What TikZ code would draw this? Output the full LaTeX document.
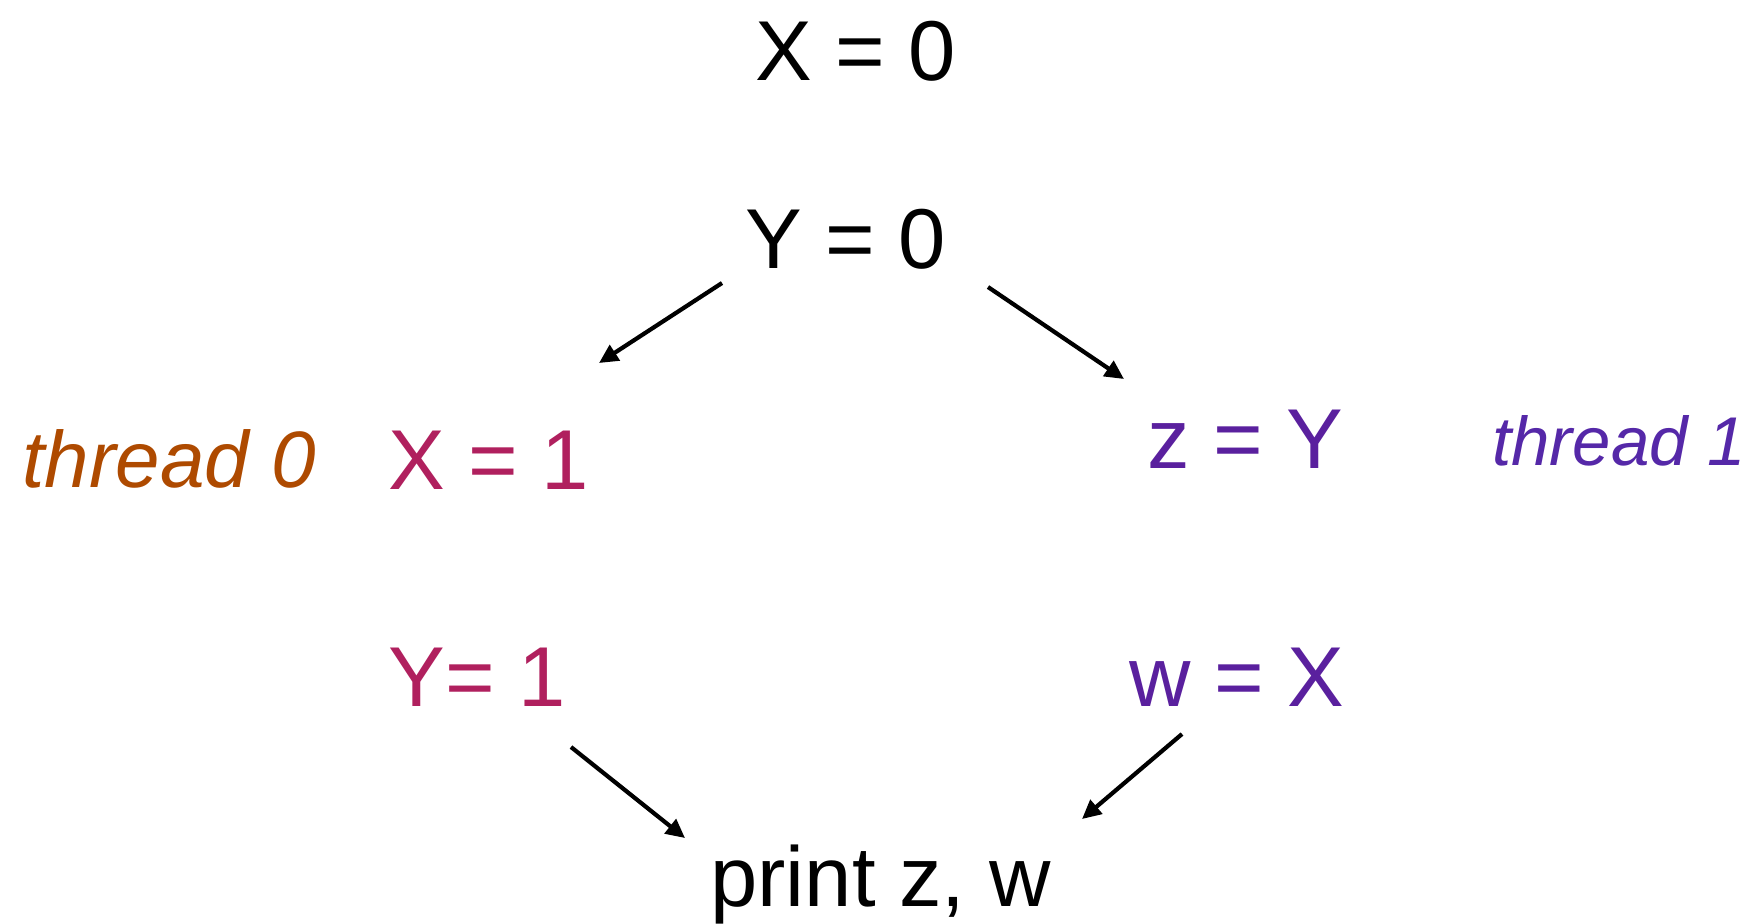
\documentclass[tikz,border=0pt]{standalone}
\usepackage{fontspec}
\setmainfont{Liberation Sans}
\usetikzlibrary{arrows.meta}
\definecolor{tbrown}{HTML}{AE4A00}
\definecolor{tmag}{HTML}{B0205E}
\definecolor{tpurp}{HTML}{5A209E}
\definecolor{tpurp2}{HTML}{5528A8}
\tikzset{
  lbl/.style={inner sep=0pt, anchor=base west, font=\fontsize{42.5}{51}\selectfont},
  thr/.style={inner sep=0pt, anchor=base west, font=\fontsize{40}{48}\selectfont\itshape},
  arr/.style={line width=2.1pt, -{Triangle[length=9.5pt,width=9pt]}},
}
\begin{document}
\begin{tikzpicture}[x=0.5pt,y=-0.5pt]
\useasboundingbox (0,0) rectangle (1749,923);
\node[lbl] (x0) at (755,80) {X = 0};
\node[lbl] (y0) at (745,268) {Y = 0};
\node[thr, text=tbrown] (t0) at (22,487) {thread 0};
\node[lbl, text=tmag] (x1) at (388,489) {X = 1};
\node[lbl, text=tmag] (y1) at (388,706) {Y= 1};
\node[lbl, text=tpurp] (zy) at (1147,468) {z = Y};
\node[thr, text=tpurp2, font=\fontsize{34.5}{41}\selectfont\itshape] (t1) at (1492,465) {thread 1};
\node[lbl, text=tpurp] (wx) at (1129,706) {w = X};
\node[lbl] (pr) at (710,906) {print z, w};
\coordinate (a1s) at (722,283);
\coordinate (a1e) at (599,363);
\coordinate (a2s) at (988,287);
\coordinate (a2e) at (1124,379);
\coordinate (a3s) at (571,747);
\coordinate (a3e) at (685,838);
\coordinate (a4s) at (1182,734);
\coordinate (a4e) at (1082,819);
\draw[arr] (a1s) -- (a1e);
\draw[arr] (a2s) -- (a2e);
\draw[arr] (a3s) -- (a3e);
\draw[arr] (a4s) -- (a4e);
\end{tikzpicture}
\end{document}
